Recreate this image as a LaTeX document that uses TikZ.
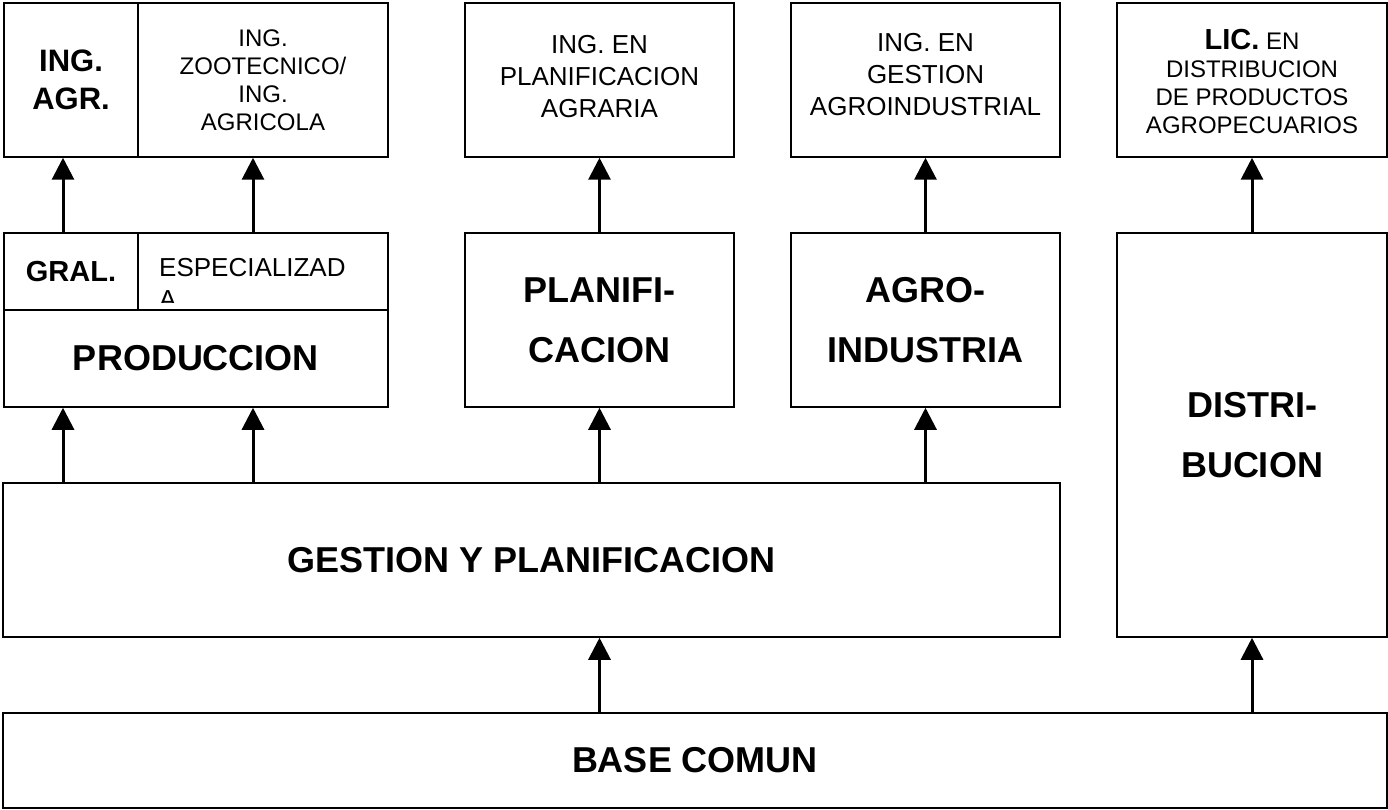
\documentclass[tikz,border=0pt]{standalone}
\usepackage{fontspec}
\setmainfont{Liberation Sans}
\usepackage{tikz}
\usetikzlibrary{arrows.meta}
\tikzset{
   box/.style={draw, line width=1.5pt, inner sep=0pt, align=center},
   big/.style={font=\bfseries\fontsize{36}{60}\selectfont},
   small/.style={font=\fontsize{24}{28}\selectfont},
   medium/.style={font=\fontsize{26}{32}\selectfont},
   up/.style={-{Triangle[width=22pt,length=22pt]}, line width=3pt},
}

\begin{document}
\begin{tikzpicture}[x=1pt, y=-1pt]
    \useasboundingbox (0,0) rectangle (1388,810);

    \node[box, minimum width=134pt, minimum height=154pt, font=\bfseries\fontsize{31}{38}\selectfont] (agr) at (71,80) {ING.\\AGR.};
    \node[box, small, minimum width=250pt, minimum height=154pt] (zoot) at (263,80) {ING.\\ZOOTECNICO/\\ING.\\AGRICOLA};
    \node[box, medium, minimum width=269pt, minimum height=154pt] (plag) at (599.5,80) {};
    \node[medium, align=center] (plagtxt) at (599.5,77) {ING. EN\\PLANIFICACION\\AGRARIA};
    \node[box, medium, minimum width=269pt, minimum height=154pt] (gagr) at (925.5,80) {};
    \node[medium, align=center] (gagrtxt) at (925.5,75) {ING. EN\\GESTION\\AGROINDUSTRIAL};
    \node[box, small, minimum width=270pt, minimum height=154pt] (lic) at (1252,80) {};
    \node[small, align=center] (lictxt) at (1252,81) {{\bfseries\fontsize{29}{28}\selectfont LIC.} EN\\DISTRIBUCION\\DE PRODUCTOS\\AGROPECUARIOS};

    \node[box, minimum width=134pt, minimum height=77pt, font=\bfseries\fontsize{29}{32}\selectfont] (gral) at (71,271.5) {GRAL.};
    \node[box, minimum width=250pt, minimum height=77pt] (espec) at (263,271.5) {};
    \begin{scope}
      \clip (138,233) rectangle (388,302);
      \node[medium, align=left, inner sep=0pt, anchor=base west] (espectxt) at (159,308) {ESPECIALIZAD\\A};
    \end{scope}
    \node[box, big, minimum width=384pt, minimum height=97pt] (prod) at (196,358.5) {PRODUCCION};
    \node[box, big, minimum width=269pt, minimum height=174pt] (planif) at (599.5,320) {PLANIFI-\\CACION};
    \node[box, big, minimum width=269pt, minimum height=174pt] (agroind) at (925.5,320) {AGRO-\\INDUSTRIA};
    \node[box, big, minimum width=270pt, minimum height=404pt] (distri) at (1252,435) {DISTRI-\\BUCION};

    \node[box, big, minimum width=1057pt, minimum height=154pt] (gest) at (531.5,560) {GESTION Y PLANIFICACION};
    \node[box, big, minimum width=1384pt, minimum height=95pt] (base) at (695,760.5) {BASE COMUN};

    \coordinate (p1) at (63,0);
    \coordinate (p2) at (253,0);

    \draw[up] (gral.north -| p1) -- (agr.south -| p1);
    \draw[up] (espec.north -| p2) -- (zoot.south -| p2);
    \draw[up] (planif.north) -- (plag.south);
    \draw[up] (agroind.north) -- (gagr.south);
    \draw[up] (distri.north) -- (lic.south);

    \draw[up] (gest.north -| p1) -- (prod.south -| p1);
    \draw[up] (gest.north -| p2) -- (prod.south -| p2);
    \draw[up] (gest.north -| planif.south) -- (planif.south);
    \draw[up] (gest.north -| agroind.south) -- (agroind.south);

    \draw[up] (base.north -| planif.south) -- (gest.south -| planif.south);
    \draw[up] (base.north -| distri.south) -- (distri.south);
\end{tikzpicture}
\end{document}
